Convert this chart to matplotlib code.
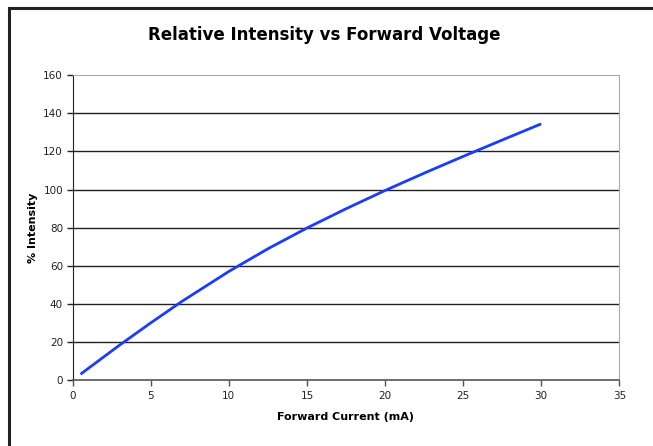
import numpy as np
import matplotlib
matplotlib.use("Agg")
import matplotlib.pyplot as plt
from matplotlib.patches import Rectangle

# values
current_ma = [0.5, 1, 2, 3, 5, 7, 10, 12.5, 15, 17.5, 20, 22.5, 25, 27.5, 30]
intensity_pct = [3, 6.1, 12.2, 18.3, 30.0, 41.3, 57.0, 68.9, 79.8, 89.9, 99.5, 108.6, 117.4, 126.0, 134.5]
x_ticks = [0, 5, 10, 15, 20, 25, 30, 35]
y_ticks = [0, 20, 40, 60, 80, 100, 120, 140, 160]

plt.rcParams['font.family'] = ['DejaVu Sans']

fig = plt.figure(figsize=(6.53, 4.46), dpi=100)
ax = fig.add_axes([0.1113, 0.148, 0.8371, 0.6832])

ax.plot(current_ma, intensity_pct, color='#1a3cff', linewidth=2.0, solid_capstyle='butt',
        solid_joinstyle='round')

ax.set_xlim(0, 35)
ax.set_ylim(0, 160)
ax.set_xticks(x_ticks)
ax.set_yticks(y_ticks)
ax.tick_params(axis='both', direction='out', length=4, width=1, labelsize=7.5,
               colors='#222222', pad=3)
ax.tick_params(axis='x', color='#555555', pad=4)

# horizontal gridlines, black
for yv in y_ticks[1:-1]:
    ax.axhline(yv, color='#222222', linewidth=1.0, zorder=1)

ax.spines['left'].set_color('#222222')
ax.spines['bottom'].set_color('#555555')
ax.spines['bottom'].set_linewidth(1.2)
ax.spines['top'].set_color('#aaaaaa')
ax.spines['right'].set_color('#aaaaaa')

ax.set_xlabel('Forward Current (mA)', fontsize=8, fontweight='bold', labelpad=8)
ax.set_ylabel('% Intensity', fontsize=8, fontweight='bold', labelpad=4)
fig.text(0.497, 0.921, 'Relative Intensity vs Forward Voltage', ha='center', va='center',
         fontsize=12, fontweight='bold', color='#000000')

# outer frame (only left and top edges fall inside the image)
fig.patches.append(Rectangle((8.5 / 653, -0.2), 1.5, 1.2 - 7.5 / 446, transform=fig.transFigure,
                             fill=False, edgecolor='#222222', linewidth=2.2))

fig.savefig('out.png', dpi=100)
